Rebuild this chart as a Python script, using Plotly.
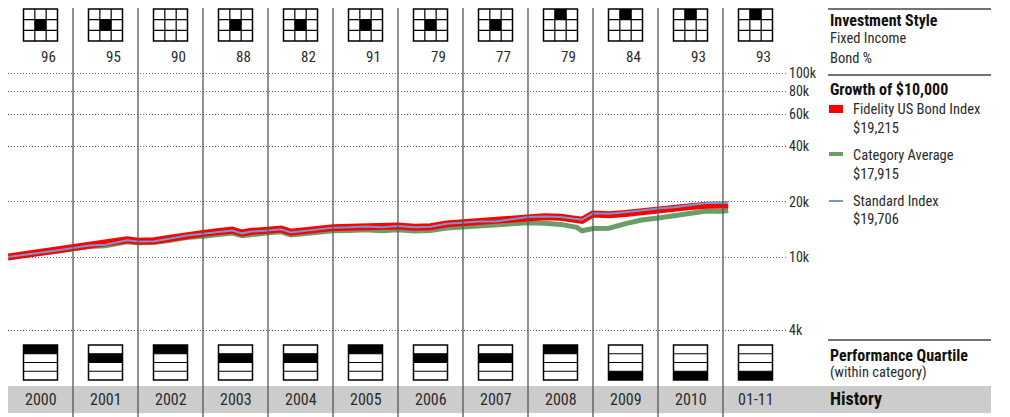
import plotly.graph_objects as go

W, H = 1010, 417
FONT = "Liberation Sans Narrow, Roboto Condensed, DejaVu Sans Condensed, Arial Narrow, Roboto, sans-serif"
TXT = "#2b2b2b"

# Column data (one column per calendar year)
years = ["2000", "2001", "2002", "2003", "2004", "2005",
         "2006", "2007", "2008", "2009", "2010", "01-11"]
bond_pct = [96, 95, 90, 88, 82, 91, 79, 77, 79, 84, 93, 93]
# black cell of the 3x3 style box as (row, col), row 0 = top; None = empty box
style_cell = [(1, 1), (1, 1), None, (1, 1), (1, 1), (1, 1),
              (1, 1), (1, 1), (0, 1), (0, 1), (0, 1), (0, 1)]
# performance quartile (1 = top row)
quartile = [1, 2, 1, 2, 2, 1, 2, 2, 1, 4, 4, 4]

# Growth of $10,000 (decimal year, dollars)
dates = [2000.00, 2000.25, 2000.50, 2000.75, 2001.00, 2001.25, 2001.50, 2001.83,
         2002.00, 2002.25, 2002.50, 2002.75, 2003.00, 2003.25, 2003.45, 2003.60,
         2003.75, 2004.00, 2004.20, 2004.35, 2004.50, 2004.75, 2005.00, 2005.25,
         2005.50, 2005.75, 2006.00, 2006.25, 2006.50, 2006.75, 2007.00, 2007.25,
         2007.50, 2007.75, 2008.00, 2008.25, 2008.50, 2008.75, 2008.83, 2009.00,
         2009.25, 2009.50, 2009.75, 2010.00, 2010.25, 2010.50, 2010.75, 2011.00,
         2011.08]
fund = [10000, 10280, 10560, 10900, 11250, 11600, 11700, 12400,
        12200, 12250, 12650, 13150, 13450, 13750, 14000, 13500,
        13800, 14000, 14200, 13650, 13850, 14200, 14450, 14500,
        14650, 14500, 14750, 14500, 14600, 15150, 15400, 15600,
        15600, 16100, 16450, 16550, 16450, 16000, 15850, 17150,
        17000, 17250, 17700, 18000, 18250, 18800, 19150, 19250,
        19215]
category = [10000, 10200, 10450, 10750, 11100, 11400, 11500, 12100,
            11950, 12000, 12350, 12750, 12950, 13250, 13500, 13050,
            13300, 13550, 13700, 13200, 13350, 13700, 13900, 13950,
            14050, 13900, 14050, 13850, 13950, 14400, 14600, 14750,
            14800, 15100, 15350, 15250, 15050, 14500, 13900, 14300,
            14350, 15200, 15900, 16300, 16700, 17200, 17800, 17750,
            17915]
std_index = [10000, 10250, 10500, 10850, 11200, 11550, 11650, 12350,
             12150, 12200, 12600, 13100, 13400, 13700, 13950, 13450,
             13750, 13950, 14150, 13600, 13800, 14150, 14450, 14500,
             14650, 14500, 14750, 14500, 14600, 15150, 15400, 15600,
             15600, 16100, 16500, 16600, 16500, 16100, 15950, 17300,
             17200, 17500, 18000, 18350, 18650, 19250, 19700, 19650,
             19706]

tickvals = [4000, 10000, 20000, 40000, 60000, 80000, 100000]
ticktext = ["4k", "10k", "20k", "40k", "60k", "80k", "100k"]

legend_names = ["Fidelity US Bond Index", "Category Average", "Standard Index"]
legend_values = ["$19,215", "$17,915", "$19,706"]

RED, GREEN, BLUE = "#ff0000", "#699e69", "#6d9bd3"

# the page puts the figure 8px in from the top-left corner
OFF = 8
PLOT_W = 780


def px(x):
    # screen pixel -> paper x
    return (x - OFF) / PLOT_W


def py(y):
    # screen pixel -> paper y
    return 1 - (y - OFF) / H


fig = go.Figure()
fig.add_trace(go.Scatter(x=dates, y=category, mode="lines",
                         line=dict(color=GREEN, width=5), hoverinfo="skip"))
fig.add_trace(go.Scatter(x=dates, y=fund, mode="lines",
                         line=dict(color=RED, width=7), hoverinfo="skip"))
fig.add_trace(go.Scatter(x=dates, y=std_index, mode="lines",
                         line=dict(color=BLUE, width=2), hoverinfo="skip"))

shapes = []
# grey history band
shapes.append(dict(type="rect", xref="paper", yref="paper", x0=px(8), x1=px(991),
                   y0=py(413), y1=py(386), fillcolor="#cccccc", line_width=0,
                   layer="below"))
# column separators
for i in range(1, len(years)):
    shapes.append(dict(type="line", xref="x", yref="paper", x0=2000 + i, x1=2000 + i,
                       y0=py(420), y1=1, line=dict(color="#555555", width=1.3)))

half = 17 / 65
for i, yr in enumerate(years):
    cx = 2000 + i + 0.5
    x0, x1 = cx - half, cx + half
    cw = (x1 - x0) / 3
    # style box 3x3
    top, bot = py(9), py(41)
    ch = (top - bot) / 3
    if style_cell[i] is not None:
        r, c = style_cell[i]
        shapes.append(dict(type="rect", xref="x", yref="paper",
                           x0=x0 + c * cw, x1=x0 + (c + 1) * cw,
                           y0=top - (r + 1) * ch, y1=top - r * ch,
                           fillcolor="black", line_width=0))
    for k in (1, 2):
        shapes.append(dict(type="line", xref="x", yref="paper", x0=x0 + k * cw,
                           x1=x0 + k * cw, y0=bot, y1=top,
                           line=dict(color="black", width=1.2)))
        shapes.append(dict(type="line", xref="x", yref="paper", x0=x0, x1=x1,
                           y0=top - k * ch, y1=top - k * ch,
                           line=dict(color="black", width=1.2)))
    shapes.append(dict(type="rect", xref="x", yref="paper", x0=x0, x1=x1,
                       y0=bot, y1=top, line=dict(color="black", width=1.5)))

    # quartile box 4 rows
    qtop, qbot = py(345), py(380)
    qh = (qtop - qbot) / 4
    q = quartile[i]
    shapes.append(dict(type="rect", xref="x", yref="paper", x0=x0, x1=x1,
                       y0=qtop - q * qh, y1=qtop - (q - 1) * qh,
                       fillcolor="black", line_width=0))
    for k in (1, 2, 3):
        shapes.append(dict(type="line", xref="x", yref="paper", x0=x0, x1=x1,
                           y0=qtop - k * qh, y1=qtop - k * qh,
                           line=dict(color="black", width=1.2)))
    shapes.append(dict(type="rect", xref="x", yref="paper", x0=x0, x1=x1,
                       y0=qbot, y1=qtop, line=dict(color="black", width=1.5)))

# right panel rules
for yy in (9, 75, 340):
    shapes.append(dict(type="line", xref="paper", yref="paper", x0=px(828), x1=px(991),
                       y0=py(yy), y1=py(yy), line=dict(color="#444444", width=1.5)))

# legend swatches
for color, (ya, yb) in zip([RED, GREEN, BLUE], [(105, 113), (152, 156), (200, 202)]):
    shapes.append(dict(type="rect", xref="paper", yref="paper", x0=px(829), x1=px(843),
                       y0=py(yb), y1=py(ya), fillcolor=color, line_width=0))

annotations = []
for i, yr in enumerate(years):
    cx = 2000 + i + 0.5
    annotations.append(dict(x=cx + half, y=py(57), xref="x", yref="paper",
                            text=str(bond_pct[i]), showarrow=False, xanchor="right",
                            yanchor="middle", font=dict(size=15, color=TXT)))
    annotations.append(dict(x=cx, y=py(399), xref="x", yref="paper", text=yr,
                            showarrow=False, xanchor="center", yanchor="middle",
                            font=dict(size=16, color=TXT)))


def label(text, y, x=828, bold=False, size=None):
    if size is None:
        size = 16 if bold else 14.5
    annotations.append(dict(x=px(x), y=py(y), xref="paper", yref="paper",
                            text="<b>%s</b>" % text if bold else text,
                            showarrow=False, xanchor="left", yanchor="middle",
                            font=dict(size=size, color="#111111" if bold else TXT)))


label("Investment Style", 20, bold=True)
label("Fixed Income", 38)
label("Bond %", 58)
label("Growth of $10,000", 89, bold=True)
for name, val, yy in zip(legend_names, legend_values, [109, 155, 201]):
    label(name, yy, x=851)
    label(val, yy + 19, x=851)
label("Performance Quartile", 355, bold=True)
label("(within category)", 372)
label("History", 398, bold=True, size=18)

# log axis placed so that 10k sits at screen y=257 and a decade spans 183.7px
dec = 183.7
y_top = 4 + (257 - OFF) / dec
y_bot = y_top - H / dec

fig.update_layout(
    width=W, height=H,
    margin=dict(l=0, r=W - PLOT_W, t=0, b=0),
    paper_bgcolor="white", plot_bgcolor="white",
    showlegend=False,
    font=dict(family=FONT, color=TXT),
    shapes=shapes, annotations=annotations,
    xaxis=dict(range=[2000, 2012], visible=False, fixedrange=True),
    yaxis=dict(type="log", range=[y_bot, y_top], side="right",
               tickvals=tickvals, ticktext=ticktext, ticks="",
               tickfont=dict(size=14, color=TXT),
               showgrid=True, gridcolor="#666666", gridwidth=1, griddash="1px,2px",
               zeroline=False, showline=False, fixedrange=True),
)

fig.write_html("out.html")
